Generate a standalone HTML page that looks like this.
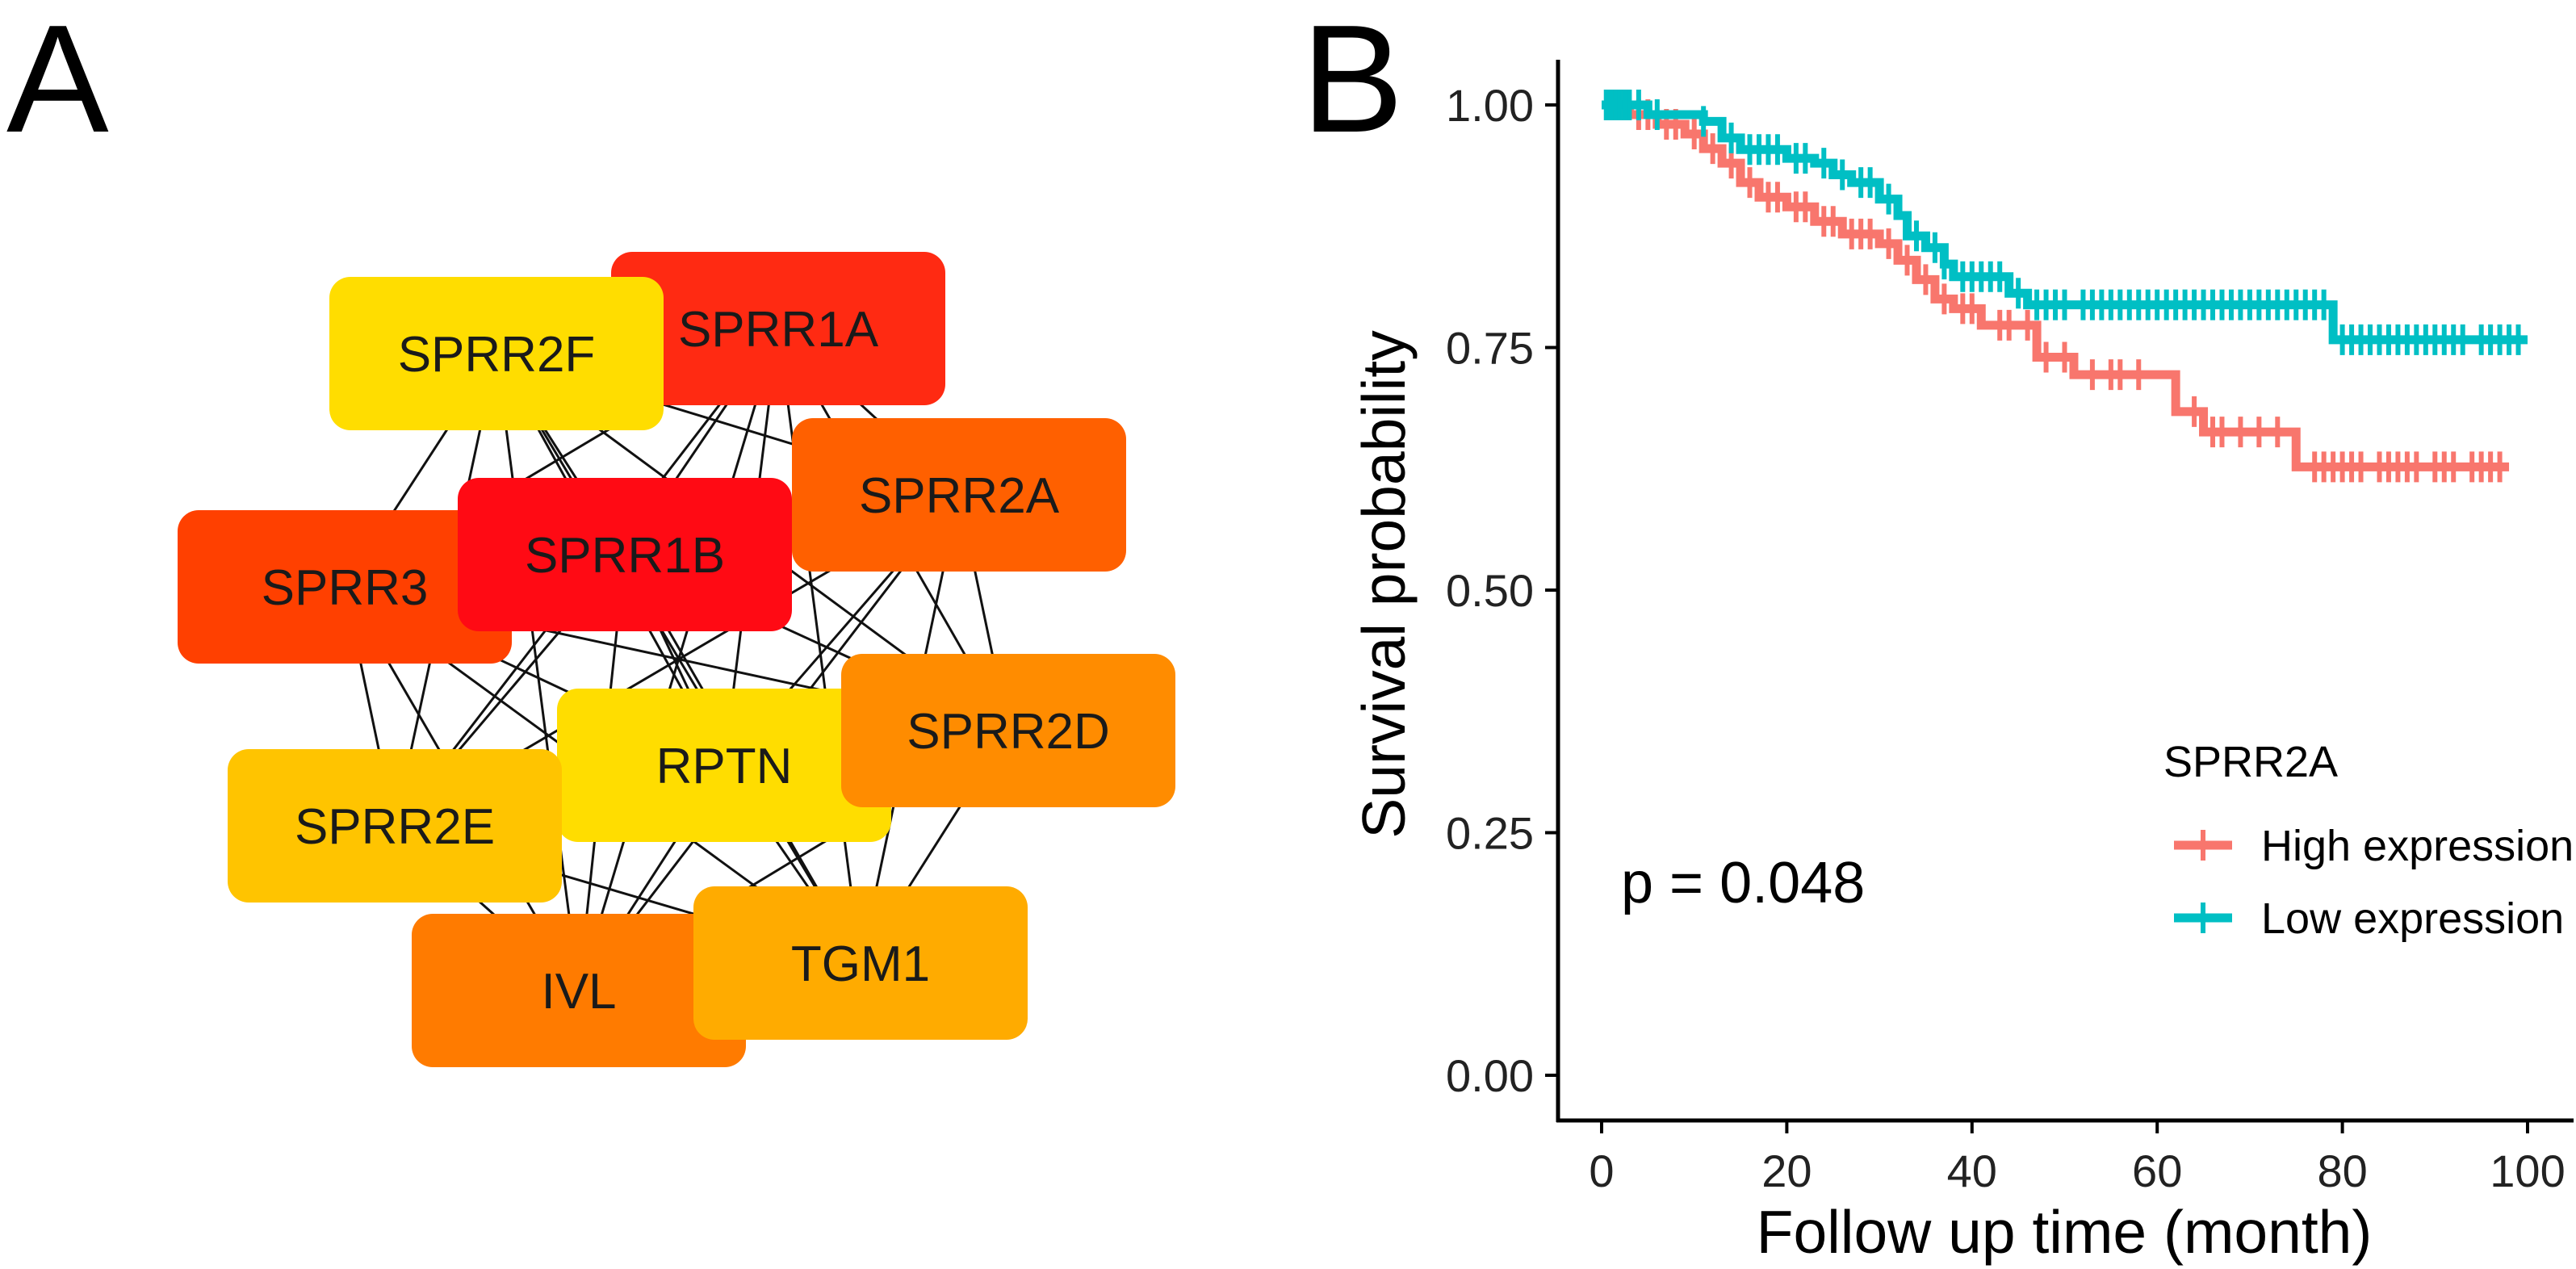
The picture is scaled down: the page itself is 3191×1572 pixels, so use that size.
<!DOCTYPE html>
<html><head><meta charset="utf-8"><style>
html,body{margin:0;padding:0;background:#fff;}
svg{display:block;font-family:"Liberation Sans",Arial,sans-serif;}
</style></head><body>
<svg id="fig" width="3191" height="1572" viewBox="0 0 3191 1572" xmlns="http://www.w3.org/2000/svg">
<text x="8" y="163" font-size="190" fill="#000">A</text>
<text x="1612" y="163" font-size="190" fill="#000">B</text>
<g id="net"></g>
<g id="chart"></g>
</svg>
<script>
const NS='http://www.w3.org/2000/svg';
function mk(tag,attrs,parent){const e=document.createElementNS(NS,tag);for(const k in attrs)e.setAttribute(k,attrs[k]);parent.appendChild(e);return e;}

// ---- Network ----
const nodeNames=['SPRR1A','SPRR2F','SPRR2A','SPRR3','SPRR1B','RPTN','SPRR2D','SPRR2E','IVL','TGM1'];
const nodeColors=['#ff2a12','#ffdd00','#ff6000','#ff4000','#ff0a14','#ffdd00','#ff8c00','#ffc400','#ff7b00','#ffab00'];
const nodeX=[757,408,981,220,567,690,1042,282,510,859];
const nodeY=[312,343,518,632,592,853,810,928,1132,1098];
const BW=414,BH=190;
const net=document.getElementById('net');
const edges=mk('g',{},net);


for(let i=0;i<nodeNames.length;i++)for(let j=i+1;j<nodeNames.length;j++){
  const l=mk('line',{x1:nodeX[i]+BW/2,y1:nodeY[i]+BH/2,x2:nodeX[j]+BW/2,y2:nodeY[j]+BH/2,stroke:'#111','stroke-width':3},edges);
  
  
}
nodeNames.forEach((n,i)=>{
  const g=mk('g',{},net);
  
  
  mk('rect',{x:nodeX[i],y:nodeY[i],width:BW,height:BH,rx:26,fill:nodeColors[i]},g);
  const t=mk('text',{x:nodeX[i]+BW/2,y:nodeY[i]+BH/2+22,'text-anchor':'middle','font-size':62,fill:'#1a1a1a'},g);
  t.textContent=n;
});

// ---- Survival chart ----
const xTicks=[0,20,40,60,80,100];
const yTicks=[0,0.25,0.5,0.75,1.0];
const yTickLabels=['0.00','0.25','0.50','0.75','1.00'];
const highTimes=[0,3,6,9,11,13,15,17,20,23,26,30,32,34,36,38,41,47,51,62,65,75];
const highSurv=[1.0,0.99,0.98,0.97,0.955,0.94,0.92,0.905,0.895,0.88,0.867,0.857,0.84,0.82,0.80,0.79,0.773,0.74,0.722,0.684,0.663,0.627];
const highEnd=98;
const highCensor=[1,2,4,5,7,8,10,12,14,16,18,19,21,22,24,25,27,28,29,31,33,35,37,39,40,43,44,46,48,50,53,55,56,58,64,66,67,69,71,73,77,78,79,80,81,82,84,85,86,87,88,90,91,92,94,95,96,97];
const lowTimes=[0,5,11,13,15,20,23,25,27,30,32,33,35,37,38,44,46,79];
const lowSurv=[1.0,0.99,0.983,0.966,0.954,0.945,0.94,0.928,0.92,0.903,0.886,0.865,0.853,0.836,0.823,0.806,0.794,0.758];
const lowEnd=100;
const lowCensor=[0.5,1,1.5,2,2.5,3,4,6,11,14,16,17,18,19,21,22,24,26,28,29,31,34,36,37,39,40,41,42,43,45,47,48,49,50,52,53,54,55,56,57,58,59,60,61,62,63,64,65,66,67,68,69,70,71,72,73,74,75,76,77,78,80,81,82,83,84,85,86,87,88,89,90,91,92,93,95,96,97,98,99];

const X0=1984,X1=3131,Y0=1332,Y1=130;
const sx=v=>X0+(X1-X0)*v/100;
const sy=v=>Y0-(Y0-Y1)*v;
const chart=document.getElementById('chart');

const yAxis=mk('line',{x1:1930,y1:74,x2:1930,y2:1390,stroke:'#000','stroke-width':5},chart);


const xAxis=mk('line',{x1:1928,y1:1388,x2:3188,y2:1388,stroke:'#000','stroke-width':5},chart);


yTicks.forEach((v,i)=>{
  const tk=mk('line',{x1:1914,y1:sy(v),x2:1930,y2:sy(v),stroke:'#000','stroke-width':4},chart);
  
  
  const t=mk('text',{x:1900,y:sy(v)+20,'text-anchor':'end','font-size':56,fill:'#222'},chart);
  
  
  t.textContent=yTickLabels[i];
});
xTicks.forEach(v=>{
  const tk=mk('line',{x1:sx(v),y1:1388,x2:sx(v),y2:1404,stroke:'#000','stroke-width':4},chart);
  
  
  const t=mk('text',{x:sx(v),y:1470,'text-anchor':'middle','font-size':56,fill:'#222'},chart);
  
  
  t.textContent=String(v);
});
const xt=mk('text',{x:2557,y:1552,'text-anchor':'middle','font-size':75,fill:'#000'},chart);


xt.textContent='Follow up time (month)';
const yt=mk('text',{x:0,y:0,'text-anchor':'middle','font-size':75,fill:'#000',transform:'translate(1740,724) rotate(-90)'},chart);


yt.textContent='Survival probability';

function survAt(times,surv,t){let s=surv[0];for(let i=0;i<times.length;i++){if(times[i]<=t)s=surv[i];}return s;}
function drawCurve(times,surv,end,cens,color,name){
  const g=mk('g',{},chart);
  
  
  let d='M'+sx(times[0])+' '+sy(surv[0]);
  for(let i=1;i<times.length;i++){d+=' H'+sx(times[i])+' V'+sy(surv[i]);}
  d+=' H'+sx(end);
  mk('path',{d:d,fill:'none',stroke:color,'stroke-width':11},g);
  cens.forEach(c=>{
    const y=sy(survAt(times,surv,c));
    const m=mk('line',{x1:sx(c),y1:y-19,x2:sx(c),y2:y+19,stroke:color,'stroke-width':6},g);
    
    
  });
}
drawCurve(highTimes,highSurv,highEnd,highCensor,'#F8766D','high-expression-curve');
drawCurve(lowTimes,lowSurv,lowEnd,lowCensor,'#00BFC4','low-expression-curve');

const p=mk('text',{x:2008,y:1118,'font-size':72,fill:'#000'},chart);


p.textContent='p = 0.048';

const leg=mk('g',{},chart);


const lt=mk('text',{x:2680,y:962,'font-size':54,fill:'#000'},leg);


lt.textContent='SPRR2A';
[['High expression','#F8766D',1047],['Low expression','#00BFC4',1137]].forEach(([lab,col,y])=>{
  const e=mk('g',{},leg);
  
  
  mk('line',{x1:2693,y1:y,x2:2765,y2:y,stroke:col,'stroke-width':11},e);
  mk('line',{x1:2729,y1:y-19,x2:2729,y2:y+19,stroke:col,'stroke-width':6},e);
  const t=mk('text',{x:2801,y:y+19,'font-size':54,fill:'#000'},e);
  t.textContent=lab;
});
</script>
</body></html>
